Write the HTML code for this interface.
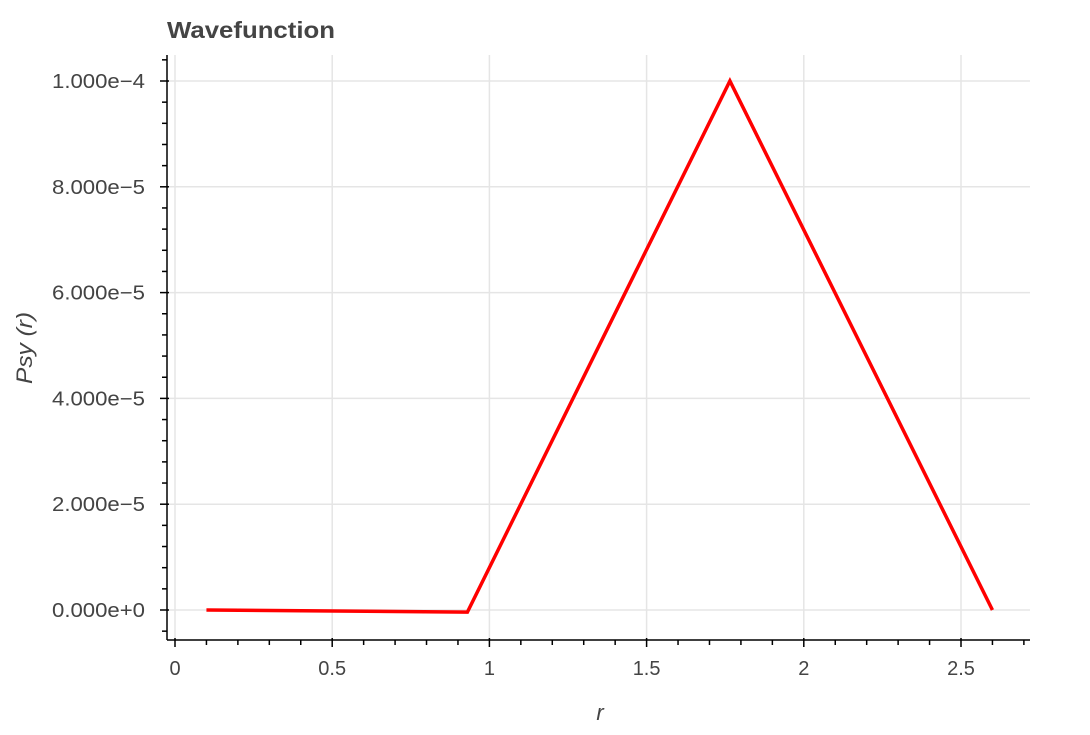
<!DOCTYPE html>
<html><head><meta charset="utf-8"><style>
body{margin:0;background:#fff;}
svg text{font-family:"Liberation Sans",Helvetica,Arial,sans-serif;}
</style></head><body>
<svg id="chart" width="1090" height="730" xmlns="http://www.w3.org/2000/svg">
<rect width="1090" height="730" fill="#fff"/>
<text x="167" y="38" font-size="23" font-weight="bold" fill="#444" textLength="168" lengthAdjust="spacingAndGlyphs">Wavefunction</text>
<g id="grid"></g><g id="axes"></g><g id="series"></g>
<text x="600" y="720" font-size="22" font-style="italic" fill="#444" text-anchor="middle">r</text>
<text transform="translate(32,348) rotate(-90)" font-size="22" font-style="italic" fill="#444" text-anchor="middle" textLength="72" lengthAdjust="spacingAndGlyphs">Psy (r)</text>
</svg>
<script>
const xs=[0.1,0.93,1.765,2.6];
const ys=[0,-4e-7,1e-4,0];
const xTicks=[0,0.5,1,1.5,2,2.5];
const xTickLabels=["0","0.5","1","1.5","2","2.5"];
const yTicks=[0,2e-5,4e-5,6e-5,8e-5,1e-4];
const yTickLabels=["0.000e+0","2.000e−5","4.000e−5","6.000e−5","8.000e−5","1.000e−4"];
const L=167,R=1030,T=55,B=640;
const X=v=>175+v*314.4;
function Yp(v){return 610-v*5.29e6;}
const NS="http://www.w3.org/2000/svg";
function mk(tag,attrs,parent){const e=document.createElementNS(NS,tag);for(const k in attrs)e.setAttribute(k,attrs[k]);document.getElementById(parent).appendChild(e);return e;}
xTicks.forEach((t,i)=>{
 const g=mk('line',{x1:X(t),x2:X(t),y1:T,y2:B,stroke:'#e5e5e5','stroke-width':1.5},'grid');
 
 
 const tk=mk('line',{x1:X(t),x2:X(t),y1:B-2,y2:B+7,stroke:'#000','stroke-width':1.5},'axes');
 
 
 const tx=mk('text',{x:X(t),y:B+35,'font-size':20,fill:'#444','text-anchor':'middle'},'axes');
 tx.textContent=xTickLabels[i];
 
 
});
for(let v=0.1;v<2.75;v+=0.1){
 if(Math.abs(v*2-Math.round(v*2))<1e-6)continue;
 const m=mk('line',{x1:X(v),x2:X(v),y1:B,y2:B+5,stroke:'#000','stroke-width':1.5},'axes');
 
 
}
yTicks.forEach((t,i)=>{
 const g=mk('line',{x1:L,x2:R,y1:Yp(t),y2:Yp(t),stroke:'#e5e5e5','stroke-width':1.5},'grid');
 
 
 const tk=mk('line',{x1:L-7,x2:L+2,y1:Yp(t),y2:Yp(t),stroke:'#000','stroke-width':1.5},'axes');
 
 
 const tx=mk('text',{x:52,y:Yp(t)+7,'font-size':20,fill:'#444',textLength:93,lengthAdjust:'spacingAndGlyphs'},'axes');
 tx.textContent=yTickLabels[i];
 
 
});
for(let k=-1;k<=26;k++){
 if(k%5===0)continue;
 const y=Yp(k*4e-6);
 if(y<T||y>B)continue;
 const m=mk('line',{x1:L-5,x2:L,y1:y,y2:y,stroke:'#000','stroke-width':1.5},'axes');
 
 
}
const xa=mk('line',{x1:L,x2:R,y1:B,y2:B,stroke:'#000','stroke-width':1.5},'axes');


const ya=mk('line',{x1:L,x2:L,y1:T,y2:B,stroke:'#000','stroke-width':1.5},'axes');


const pl=mk('polyline',{points:xs.map((x,i)=>X(x)+','+Yp(ys[i])).join(' '),fill:'none',stroke:'#ff0000','stroke-width':3.5,'stroke-linejoin':'miter'},'series');


</script>
</body></html>
